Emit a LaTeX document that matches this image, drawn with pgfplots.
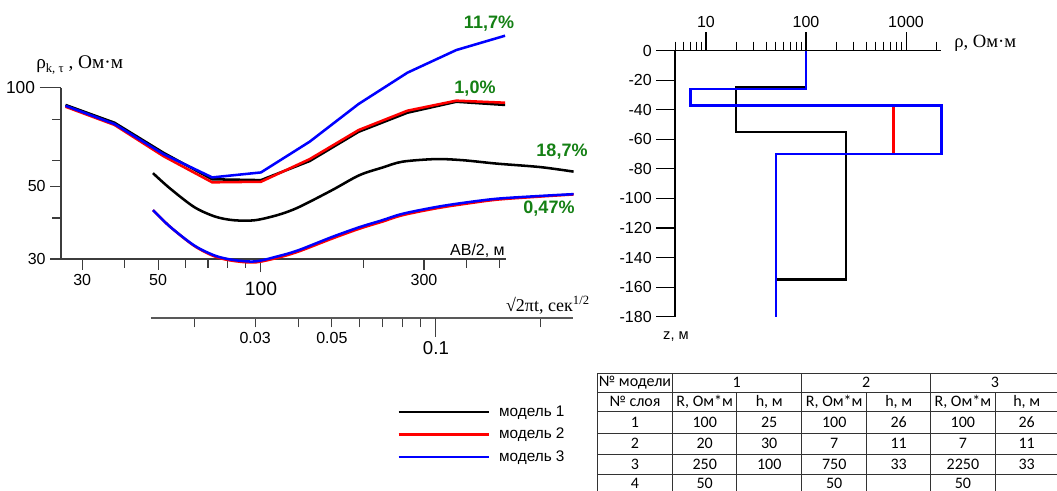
\documentclass[border=0pt]{standalone}
\usepackage{fontspec}
\setmainfont{Liberation Sans}
\newfontfamily\timesf{Liberation Serif}
\newfontfamily\tablef{Carlito}
\usepackage{pgfplots}
\pgfplotsset{compat=1.18}
\definecolor{pgreen}{RGB}{20,128,20}
\definecolor{axgray}{RGB}{60,60,60}

\begin{document}
\begin{tikzpicture}
\begin{scope}[x=0.75pt,y=-0.75pt]
\path[use as bounding box] (0,0) rectangle (1057,490);
\end{scope}

% ---------------- left: apparent resistivity vs AB/2 ----------------
\begin{axis}[
  at={(45.75pt,-194.25pt)}, anchor=south west,
  scale only axis, width=333.5pt, height=128.6pt,
  xmode=log, ymode=log,
  xmin=26, xmax=520, ymin=30, ymax=100,
  axis x line*=bottom, axis y line*=left,
  axis line style={axgray, line width=0.8pt},
  clip=false,
  tick align=outside,
  major tick length=8pt, minor tick length=6.5pt,
  tick style={axgray, line width=0.8pt},
  tick label style={font=\fontsize{12}{12}\selectfont},
  xtick={30,50,300}, xticklabels={30,50,300},
  minor xtick={40,60,70,80,90,200,400,500},
  extra x ticks={100}, extra x tick labels={100},
  extra x tick style={major tick length=10pt, tick label style={font=\fontsize{14.5}{14.5}\selectfont, yshift=-4pt}},
  ytick={30,50}, yticklabels={30,50},
  minor ytick={40,60,80},
  extra y ticks={100}, extra y tick labels={100},
  extra y tick style={major tick length=16pt, tick label style={font=\fontsize{13}{13}\selectfont}},
  legend style={at={(axis description cs:0.7466,-0.822)}, anchor=north west, draw=none, fill=none,
    font=\fontsize{11.5}{12}\selectfont, row sep=3.4pt,
    /tikz/every odd column/.append style={column sep=4.5pt}},
  legend cell align=left,
  legend image code/.code={\draw[#1] (0pt,0pt) -- (68pt,0pt);},
]
\addplot[black, line width=1.9pt] coordinates {
(26.8,88.5) (37.3,78.1) (51.8,63.3) (72.0,52.5) (100,52.2) (138.9,59.7) (193.1,73.3) (268.3,83.8) (372.8,90.5) (517.9,88.5)};
\addlegendentry{модель 1}
\addplot[red, line width=1.9pt] coordinates {
(26.8,87.4) (37.3,76.9) (51.8,61.8) (72.0,51.4) (100,51.6) (138.9,60.5) (193.1,74.2) (268.3,85.0) (372.8,91.2) (517.9,89.9)};
\addlegendentry{модель 2}
\addplot[blue, line width=1.9pt] coordinates {
(26.8,88.0) (37.3,77.4) (51.8,62.7) (72.0,53.2) (100,55.1) (138.9,68.4) (193.1,89.1) (268.3,111.0) (372.8,130.1) (517.9,143.9)};
\addlegendentry{модель 3}
\end{axis}

% ---------------- left: transient resistivity vs time ----------------
\begin{axis}[
  at={(113.25pt,-238.5pt)}, anchor=south west,
  scale only axis, width=316.5pt, height=172.9pt,
  xmode=log, ymode=log,
  xmin=0.0150, xmax=0.249, ymin=19.83, ymax=100,
  axis x line*=bottom, axis y line=none,
  axis line style={black!65, line width=0.8pt},
  clip=false, tick align=outside,
  major tick length=7pt, minor tick length=7pt,
  tick style={black!75, line width=0.8pt},
  tick label style={font=\fontsize{12}{12}\selectfont},
  xtick={0.03,0.05}, xticklabels={0.03,0.05},
  minor xtick={0.02,0.04,0.06,0.07,0.08,0.09,0.2},
  extra x ticks={0.1}, extra x tick labels={0.1},
  extra x tick style={major tick length=14pt, tick label style={font=\fontsize{14}{14}\selectfont}},
  ytick=\empty,
]
\addplot[black, line width=1.9pt, smooth] coordinates {
(0.0152,54.8) (0.017,49.3) (0.02,43.2) (0.023,40.4) (0.026,39.4) (0.03,39.4) (0.035,40.9) (0.04,43.1) (0.05,48.6) (0.06,54.0) (0.07,57.0) (0.08,59.4) (0.1,60.5) (0.12,60.0) (0.15,58.6) (0.2,57.2) (0.25,55.4)};
\addplot[red, line width=1.9pt, smooth] coordinates {
(0.0152,42.3) (0.017,37.7) (0.02,32.9) (0.023,30.5) (0.026,29.6) (0.03,29.3) (0.035,30.3) (0.04,31.6) (0.05,34.6) (0.06,37.1) (0.07,39.0) (0.08,40.8) (0.1,42.8) (0.12,44.1) (0.15,45.5) (0.2,46.5) (0.25,47.2)};
\addplot[blue, line width=1.9pt, smooth] coordinates {
(0.0152,42.3) (0.017,37.7) (0.02,33.0) (0.023,30.7) (0.026,29.8) (0.03,29.5) (0.035,30.6) (0.04,31.9) (0.05,35.0) (0.06,37.5) (0.07,39.4) (0.08,41.2) (0.1,43.2) (0.12,44.5) (0.15,45.8) (0.2,46.7) (0.25,47.3)};
\end{axis}

% ---------------- right: resistivity vs depth ----------------
\begin{axis}[
  at={(506.25pt,-237.5pt)}, anchor=south west,
  scale only axis, width=199.7pt, height=199.5pt,
  xmode=log, xmin=4.9, xmax=2250, ymin=-180, ymax=0,
  axis x line*=top, axis y line*=left,
  axis line style={black, line width=0.8pt},
  clip=false, tick align=outside,
  major tick length=14pt, minor tick length=6.75pt,
  tick style={black, line width=0.8pt},
  tick label style={font=\fontsize{12}{12}\selectfont},
  xtick={10,100,1000}, xticklabels={10,100,1000},
  minor xtick={5,6,7,8,9,20,30,40,50,60,70,80,90,200,300,400,500,600,700,800,900,2000},
  ytick={0,-20,-40,-60,-80,-100,-120,-140,-160,-180},
  yticklabels={0,-20,-40,-60,-80,-100,-120,-140,-160,-180},
]
\addplot[black, line width=1.9pt] coordinates {
(100,0) (100,-25) (20,-25) (20,-55) (250,-55) (250,-155) (50,-155) (50,-180)};
\addplot[red, line width=1.9pt] coordinates {
(100,0) (100,-26) (7,-26) (7,-37) (750,-37) (750,-70) (50,-70) (50,-180)};
\addplot[blue, line width=1.9pt] coordinates {
(100,0) (100,-26) (7,-26) (7,-37) (2250,-37) (2250,-70) (50,-70) (50,-180)};
\end{axis}

% ---------------- annotations ----------------
\begin{scope}[x=0.75pt,y=-0.75pt]
\node[anchor=west, inner sep=0pt] at (36,65) {\timesf\fontsize{14.5}{15}\selectfont ρ\raisebox{-2.5pt}{\fontsize{9.5}{9.5}\selectfont k, τ} , Ом·м};
\node[anchor=east, inner sep=0pt, font=\fontsize{12}{12}\selectfont] at (505,251) {AB/2, м};
\node[anchor=east, inner sep=0pt] at (590,305) {\timesf\fontsize{13.5}{13.5}\selectfont √2πt, сек\textsuperscript{1/2}};
\node[anchor=west, inner sep=0pt] at (954,43) {\timesf\fontsize{14}{14}\selectfont ρ, Ом·м};
\node[inner sep=0pt, font=\fontsize{11}{11}\selectfont] at (676,337) {z, м};
\begin{scope}[every node/.style={inner sep=0pt, text=pgreen, font=\bfseries\fontsize{13.5}{14}\selectfont}]
\node at (489,24) {11,7\%};
\node at (475,89) {1,0\%};
\node at (562,152) {18,7\%};
\node at (549,209) {0,47\%};
\end{scope}

% table
\begin{scope}
\clip (0,0) rectangle (1057,490);
\begin{scope}[black!80, line width=0.75pt]
\foreach \yy in {373,392,411.3,433,454,474.7,495.5} {\draw (597.3,\yy) -- (1062,\yy);}
\foreach \xx in {597.3,672.7,801.7,930.7} {\draw (\xx,373) -- (\xx,500);}
\foreach \xx in {736.7,866.7,995} {\draw (\xx,392) -- (\xx,500);}
\end{scope}
\begin{scope}[every node/.style={inner sep=0pt, font=\tablef\fontsize{12}{12}\selectfont}]
\node at (635,382.5) {№ модели};
\node at (736.7,382.5) {1};
\node at (866.2,382.5) {2};
\node at (995,382.5) {3};
\node at (635,401.7) {№ слоя};
\foreach \xx in {704.7,834.2,962.9} {\node at (\xx,401.7) {R, Ом*м};}
\foreach \xx in {769.2,898.7,1026.7} {\node at (\xx,401.7) {h, м};}
\node at (635,422.2) {1}; \node at (704.7,422.2) {100}; \node at (769.2,422.2) {25};
\node at (834.2,422.2) {100}; \node at (898.7,422.2) {26}; \node at (962.9,422.2) {100}; \node at (1026.7,422.2) {26};
\node at (635,443.5) {2}; \node at (704.7,443.5) {20}; \node at (769.2,443.5) {30};
\node at (834.2,443.5) {7}; \node at (898.7,443.5) {11}; \node at (962.9,443.5) {7}; \node at (1026.7,443.5) {11};
\node at (635,464.4) {3}; \node at (704.7,464.4) {250}; \node at (769.2,464.4) {100};
\node at (834.2,464.4) {750}; \node at (898.7,464.4) {33}; \node at (962.9,464.4) {2250}; \node at (1026.7,464.4) {33};
\node at (635,483) {4}; \node at (704.7,483) {50}; \node at (834.2,483) {50}; \node at (962.9,483) {50};
\end{scope}
\end{scope}
\end{scope}
\end{tikzpicture}
\end{document}
